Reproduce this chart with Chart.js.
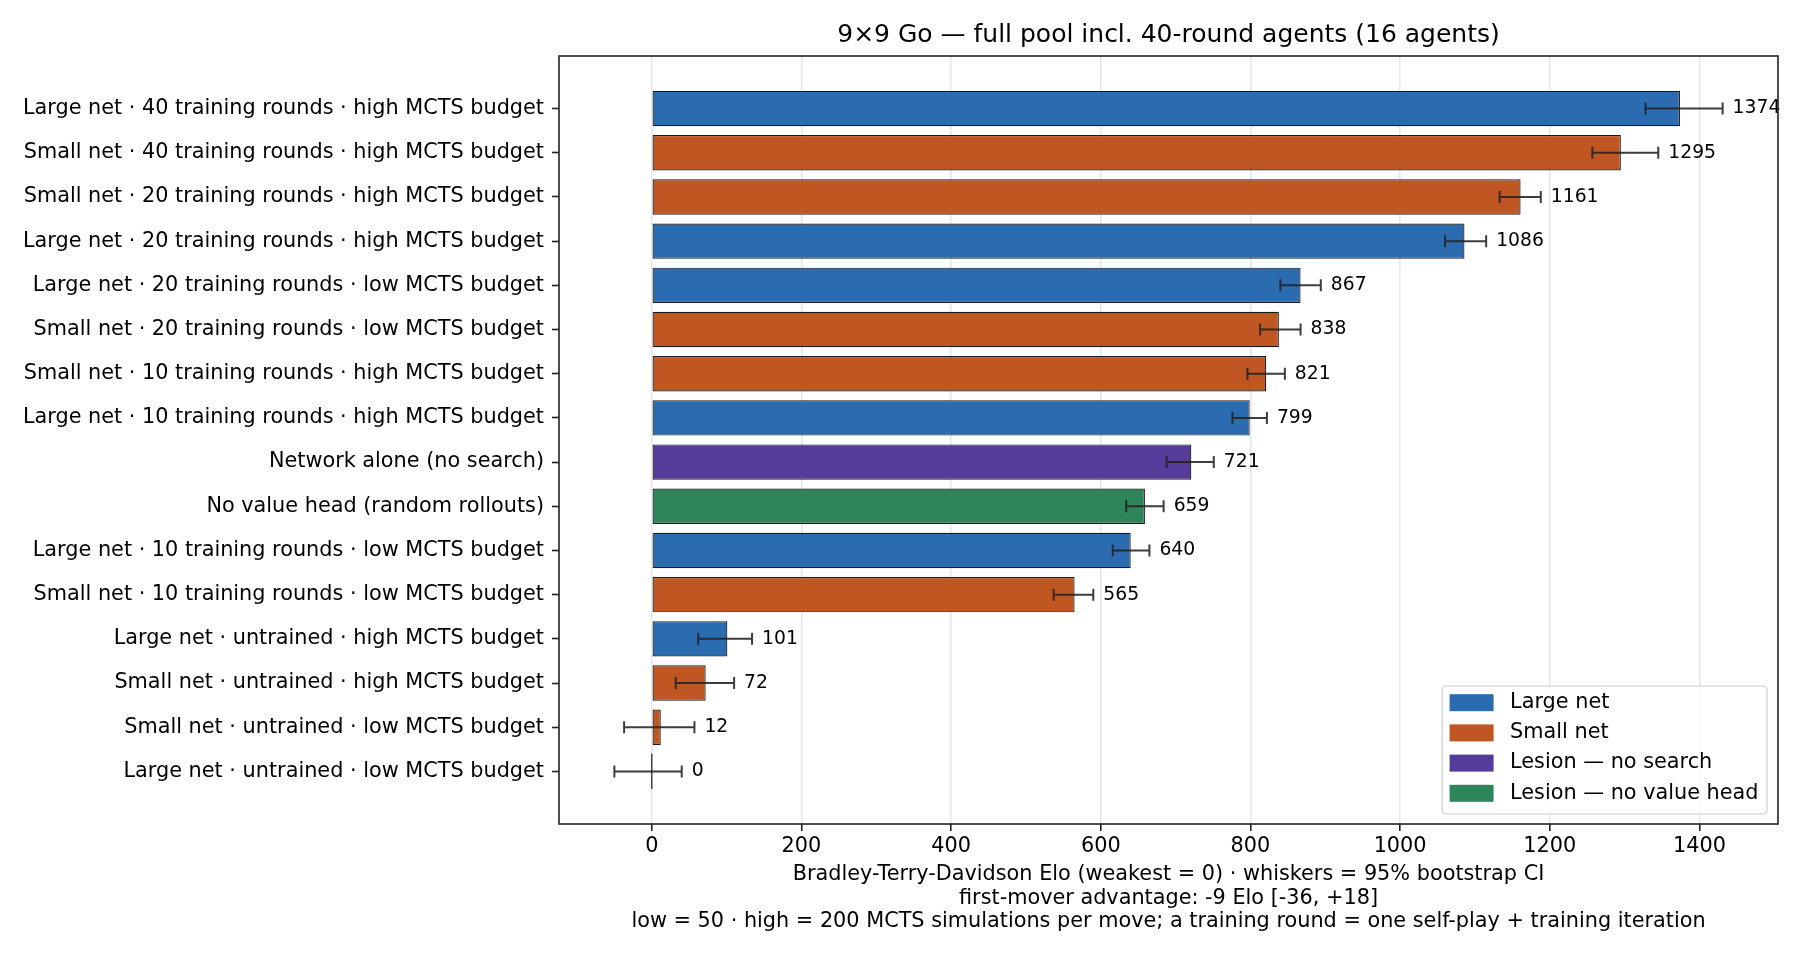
<!DOCTYPE html>
<html><head><meta charset="utf-8">
<script src="https://cdn.jsdelivr.net/npm/chart.js@4/dist/chart.umd.min.js"></script>
<style>html,body{margin:0;padding:0;background:#fff;} canvas{display:block;}</style>
</head><body>
<canvas id="c" width="1800" height="960"></canvas>
<script>
// ---- data (top to bottom) ----
const categories = [
  'Large net · 40 training rounds · high MCTS budget',
  'Small net · 40 training rounds · high MCTS budget',
  'Small net · 20 training rounds · high MCTS budget',
  'Large net · 20 training rounds · high MCTS budget',
  'Large net · 20 training rounds · low MCTS budget',
  'Small net · 20 training rounds · low MCTS budget',
  'Small net · 10 training rounds · high MCTS budget',
  'Large net · 10 training rounds · high MCTS budget',
  'Network alone (no search)',
  'No value head (random rollouts)',
  'Large net · 10 training rounds · low MCTS budget',
  'Small net · 10 training rounds · low MCTS budget',
  'Large net · untrained · high MCTS budget',
  'Small net · untrained · high MCTS budget',
  'Small net · untrained · low MCTS budget',
  'Large net · untrained · low MCTS budget'
];
const elo    = [1374, 1295, 1161, 1086, 867, 838, 821, 799, 721, 659, 640, 565, 101, 72, 12, 0];
const ciLow  = [1328, 1257, 1133, 1060, 840, 813, 796, 776, 688, 634, 616, 537, 62, 32, -37, -50];
const ciHigh = [1431, 1345, 1188, 1115, 894, 867, 846, 822, 751, 684, 665, 590, 134, 110, 57, 40];
const family = [
  'Large net', 'Small net', 'Small net', 'Large net', 'Large net', 'Small net', 'Small net', 'Large net',
  'Lesion — no search', 'Lesion — no value head', 'Large net', 'Small net',
  'Large net', 'Small net', 'Small net', 'Large net'
];
const familyNames  = ['Large net', 'Small net', 'Lesion — no search', 'Lesion — no value head'];
const familyColors = ['#2b6cb0', '#c05621', '#553c9a', '#2f855a'];
const xTickValues = [0, 200, 400, 600, 800, 1000, 1200, 1400];
const titleText = '9×9 Go — full pool incl. 40-round agents (16 agents)';
const xAxisLines = [
  'Bradley-Terry-Davidson Elo (weakest = 0) · whiskers = 95% bootstrap CI',
  'first-mover advantage: -9 Elo [-36, +18]',
  'low = 50 · high = 200 MCTS simulations per move; a training round = one self-play + training iteration'
];

const FONT = "'DejaVu Sans', sans-serif";
const colorOf = f => familyColors[familyNames.indexOf(f)];

const overlay = {
  id: 'overlay',
  afterDraw(chart) {
    const {ctx, chartArea: a, scales: {x, y}} = chart;
    const meta = chart.getDatasetMeta(0);
    ctx.save();
    // zero-width bars: matplotlib still draws their edge
    meta.data.forEach((bar, i) => {
      if (elo[i] === 0) {
        const px = x.getPixelForValue(0);
        ctx.strokeStyle = '#1a1a1a'; ctx.lineWidth = 1.2;
        ctx.beginPath(); ctx.moveTo(px, bar.y - bar.height / 2); ctx.lineTo(px, bar.y + bar.height / 2); ctx.stroke();
      }
    });
    // error bars
    ctx.strokeStyle = 'rgba(34,34,34,0.88)';
    ctx.lineWidth = 2;
    categories.forEach((c, i) => {
      const yc = y.getPixelForValue(i);
      const xl = x.getPixelForValue(ciLow[i]);
      const xh = x.getPixelForValue(ciHigh[i]);
      ctx.beginPath();
      ctx.moveTo(xl, yc); ctx.lineTo(xh, yc);
      ctx.moveTo(xl, yc - 6); ctx.lineTo(xl, yc + 6);
      ctx.moveTo(xh, yc - 6); ctx.lineTo(xh, yc + 6);
      ctx.stroke();
    });
    // value labels
    ctx.fillStyle = '#000';
    ctx.font = `18.75px ${FONT}`;
    ctx.textAlign = 'left';
    ctx.textBaseline = 'middle';
    categories.forEach((c, i) => {
      ctx.fillText(String(elo[i]), x.getPixelForValue(ciHigh[i]) + 10, y.getPixelForValue(i));
    });
    // frame
    ctx.strokeStyle = '#222';
    ctx.lineWidth = 1.6;
    ctx.strokeRect(a.left, a.top, a.right - a.left, a.bottom - a.top);
    // legend
    ctx.font = `20.8px ${FONT}`;
    const tw = Math.max(...familyNames.map(n => ctx.measureText(n).width));
    const padL = 7.5, patchW = 44, gap = 16.5, padR = 8.5, rowH = 30.2, patchH = 17;
    const boxW = padL + patchW + gap + tw + padR;
    const boxH = 128;
    const bx = a.right - 11 - boxW, by = a.bottom - 10 - boxH;
    ctx.beginPath();
    ctx.roundRect(bx, by, boxW, boxH, 4);
    ctx.fillStyle = 'rgba(255,255,255,0.8)';
    ctx.fill();
    ctx.strokeStyle = '#cccccc';
    ctx.lineWidth = 1.2;
    ctx.stroke();
    familyNames.forEach((n, k) => {
      const cy = by + 16.7 + k * rowH;
      ctx.fillStyle = familyColors[k];
      ctx.fillRect(bx + padL, cy - patchH / 2, patchW, patchH);
      ctx.fillStyle = '#000';
      ctx.textBaseline = 'middle';
      ctx.fillText(n, bx + padL + patchW + gap, cy);
    });
    ctx.restore();
  }
};

new Chart(document.getElementById('c'), {
  type: 'bar',
  data: {
    datasets: [{
      data: categories.map((c, i) => ({x: elo[i], y: i})),
      backgroundColor: family.map(colorOf),
      borderColor: '#1a1a1a',
      borderWidth: 1.2,
      borderSkipped: false,
      categoryPercentage: 1,
      barPercentage: 0.8
    }]
  },
  options: {
    indexAxis: 'y',
    responsive: false,
    devicePixelRatio: 1,
    animation: false,
    events: [],
    layout: {padding: {left: 0, right: 22, top: 0, bottom: 0}},
    plugins: {
      legend: {display: false},
      tooltip: {enabled: false},
      title: {
        display: true, text: titleText, fullSize: false, color: '#000',
        font: {family: FONT, size: 25, weight: 'normal', lineHeight: 1.2},
        padding: {top: 20, bottom: 6}
      }
    },
    scales: {
      x: {
        type: 'linear', min: -124, max: 1505, z: 1, offset: false,
        afterBuildTicks: s => { s.ticks = xTickValues.map(v => ({value: v})); },
        afterFit: s => { s.height = 136; },
        ticks: {color: '#000', font: {family: FONT, size: 20.8}, padding: 3, maxRotation: 0, callback: v => String(v)},
        grid: {color: 'rgba(176,176,176,0.3)', lineWidth: 1.6, drawTicks: true, tickLength: 7, tickColor: '#222', tickWidth: 1.6},
        border: {display: false},
        title: {display: true, text: xAxisLines, color: '#000', font: {family: FONT, size: 20.8, lineHeight: 1.125}, padding: {top: 0, bottom: 26.5}}
      },
      y: {
        type: 'linear', min: -1.19, max: 16.19, reverse: true, offset: false,
        afterBuildTicks: s => { s.ticks = categories.map((c, i) => ({value: i})); },
        afterFit: s => { s.width = 559; },
        ticks: {autoSkip: false, color: '#000', font: {family: FONT, size: 20.8}, padding: 8, callback: v => categories[v]},
        grid: {drawOnChartArea: false, offset: false, drawTicks: true, tickLength: 7, tickColor: '#222', tickWidth: 1.6},
        border: {display: false}
      }
    }
  },
  plugins: [overlay]
});
</script>
</body></html>
